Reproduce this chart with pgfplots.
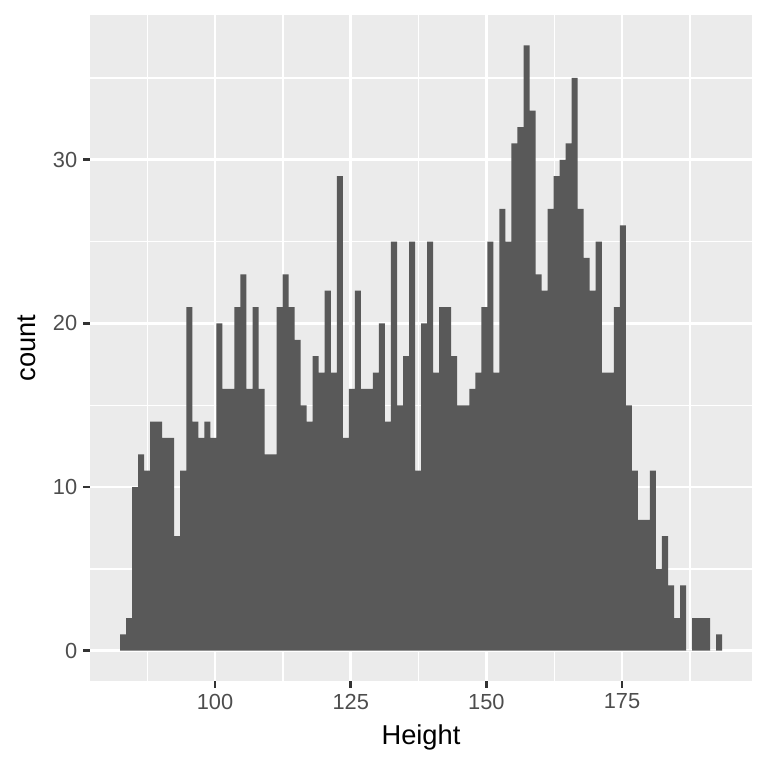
\documentclass[border=0pt]{standalone}
\usepackage{fontspec}
\setmainfont{Liberation Sans}
\usepackage{pgfplots}
\pgfplotsset{compat=1.18}
\usepackage{pgfplotstable}
\definecolor{ggbg}{HTML}{EBEBEB}
\definecolor{ggbar}{HTML}{595959}
\definecolor{ggtick}{HTML}{333333}
\definecolor{gglab}{HTML}{4D4D4D}
\pgfplotstableread{
x y
82.48 1
83.59 2
84.70 10
85.81 12
86.92 11
88.03 14
89.14 14
90.25 13
91.36 13
92.47 7
93.58 11
94.69 21
95.80 14
96.91 13
98.02 14
99.13 13
100.24 20
101.35 16
102.46 16
103.57 21
104.68 23
105.79 16
106.90 21
108.01 16
109.12 12
110.23 12
111.34 21
112.45 23
113.55 21
114.66 19
115.77 15
116.88 14
117.99 18
119.10 17
120.21 22
121.32 17
122.43 29
123.54 13
124.65 16
125.76 22
126.87 16
127.98 16
129.09 17
130.20 20
131.31 14
132.42 25
133.53 15
134.64 18
135.75 25
136.86 11
137.97 20
139.08 25
140.19 17
141.30 21
142.41 21
143.52 18
144.63 15
145.74 15
146.85 16
147.96 17
149.07 21
150.18 25
151.29 17
152.40 27
153.51 25
154.62 31
155.73 32
156.84 37
157.95 33
159.06 23
160.17 22
161.28 27
162.39 29
163.50 30
164.61 31
165.72 35
166.83 27
167.94 24
169.04 22
170.15 25
171.26 17
172.37 17
173.48 21
174.59 26
175.70 15
176.81 11
177.92 8
179.03 8
180.14 11
181.25 5
182.36 7
183.47 4
184.58 2
185.69 4
186.80 0
187.91 2
189.02 2
190.13 2
191.24 0
192.35 1
193.46 0
}\hist
\begin{document}
\begin{tikzpicture}
\begin{axis}[
  at={(0,0)}, anchor=south west,
  scale only axis, width=266.94bp, height=268.55bp,
  xmin=76.95, xmax=198.95, ymin=-1.85, ymax=38.85,
  axis background/.style={fill=ggbg},
  axis line style={draw=none},
  xtick={100,125,150,175}, ytick={0,10,20,30},
  minor xtick={87.5,112.5,137.5,162.5,187.5},
  minor ytick={5,15,25,35},
  grid=both,
  major grid style={white, line width=1.07pt},
  minor grid style={white, line width=0.53pt},
  tick pos=left, tick align=outside,
  major tick length=2.75bp, minor tick length=0pt,
  tick style={ggtick, line width=1.07pt},
  ticklabel style={font=\fontsize{8.8bp}{10bp}\selectfont, text=gglab, inner sep=0pt},
  /pgf/number format/assume math mode=true,
  xticklabel style={anchor=north, yshift=-2.2bp},
  yticklabel style={anchor=east, xshift=-2.2bp},
  xlabel={Height},
  ylabel={count},
  label style={font=\fontsize{11bp}{13bp}\selectfont, text=black, inner sep=0pt},
  xlabel style={at={([yshift=-25.5bp]axis description cs:0.5,0)}, anchor=base},
  ylabel style={at={([xshift=-21.8bp]axis description cs:0,0.5)}, anchor=base},
]
\addplot[const plot mark left, fill=ggbar, draw=none] table[x=x, y=y] {\hist} \closedcycle;
\end{axis}
\pgfresetboundingbox
\path[use as bounding box] (-36.29bp,-35.08bp) rectangle (273.39bp,274.6bp);
\end{tikzpicture}
\end{document}
